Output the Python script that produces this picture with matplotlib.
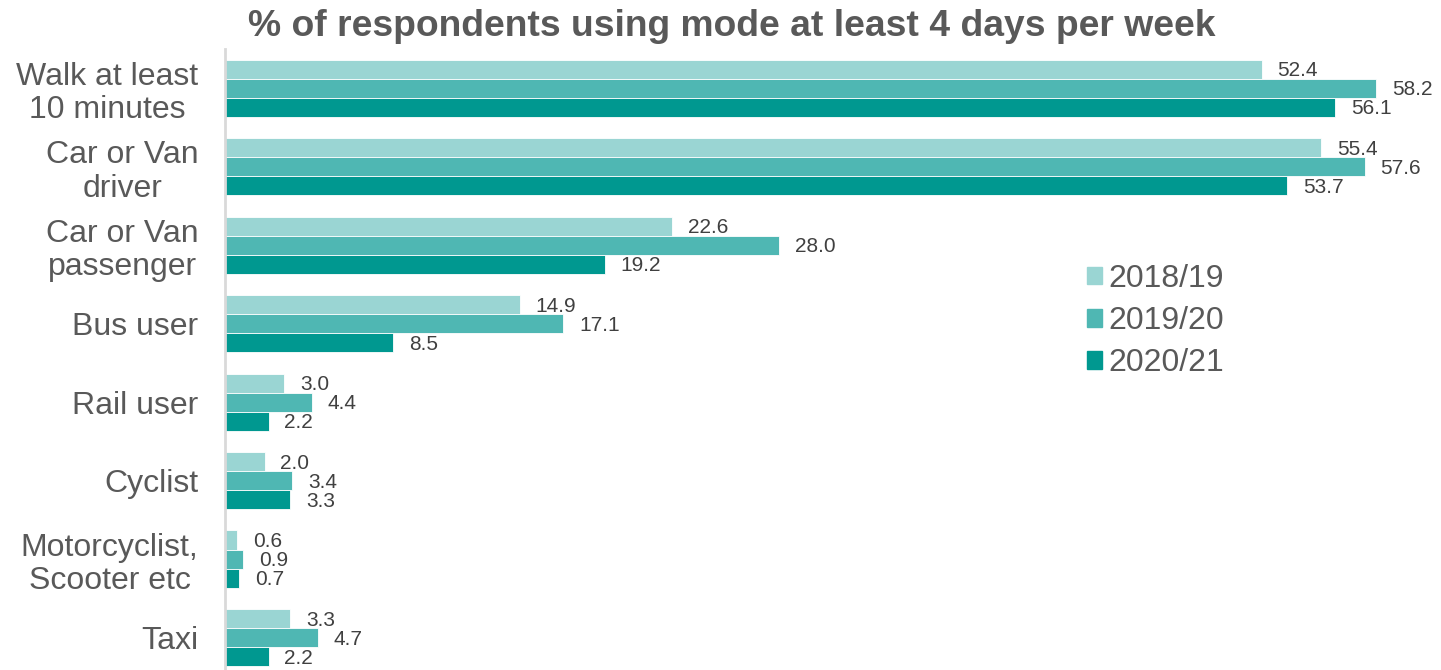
import numpy as np
import matplotlib.pyplot as plt
from matplotlib.patches import Patch

plt.rcParams['font.family'] = ['Liberation Sans', 'DejaVu Sans']

modes = ['Walk at least\n10 minutes', 'Car or Van\ndriver', 'Car or Van\npassenger',
         'Bus user', 'Rail user', 'Cyclist', 'Motorcyclist,\nScooter etc', 'Taxi']
years = ['2018/19', '2019/20', '2020/21']
v1819 = [52.4, 55.4, 22.6, 14.9, 3.0, 2.0, 0.6, 3.3]
v1920 = [58.2, 57.6, 28.0, 17.1, 4.4, 3.4, 0.9, 4.7]
v2021 = [56.1, 53.7, 19.2, 8.5, 2.2, 3.3, 0.7, 2.2]
colours = ['#9AD5D3', '#4FB7B3', '#009890']

fig = plt.figure(figsize=(14.41, 6.70), dpi=100)
ax = fig.add_axes([225 / 1441, 0, 1195 / 1441, 621 / 670])

y = np.arange(len(modes))
h = 0.243
for k, (vals, c) in enumerate(zip([v1819, v1920, v2021], colours)):
    pos = y + (k - 1) * h
    ax.barh(pos, vals, height=h, color=c, edgecolor='white', linewidth=0.6)
    for p, v in zip(pos, vals):
        ax.text(v + 0.8, p + 0.02, f'{v:.1f}', va='center', ha='left',
                fontsize=15, color='#404040')

ax.set_xlim(0, 60.4)
ax.set_ylim(7.414, -0.5)
ax.set_yticks(y)
ax.set_yticklabels(modes, fontsize=23, color='#595959', linespacing=1.15,
                   multialignment='center')
ax.tick_params(axis='y', length=0, pad=19)
ax.set_xticks([])
for s in ['top', 'right', 'bottom']:
    ax.spines[s].set_visible(False)
ax.spines['left'].set_color('#D9D9D9')
ax.spines['left'].set_linewidth(2)

fig.text(0.508, 1 - 26 / 670, '% of respondents using mode at least 4 days per week',
         ha='center', va='center', fontsize=26.8, fontweight='bold', color='#595959')

handles = [Patch(color=c) for c in colours]
fig.legend(handles, years, loc='upper left', bbox_to_anchor=(1087 / 1441, 1 - 264 / 670),
           frameon=False, fontsize=23, handlelength=0.47, handleheight=0.47,
           handletextpad=0.2, labelspacing=0.38, borderpad=0, borderaxespad=0,
           labelcolor='#595959')

fig.savefig('out.png', dpi=100)
